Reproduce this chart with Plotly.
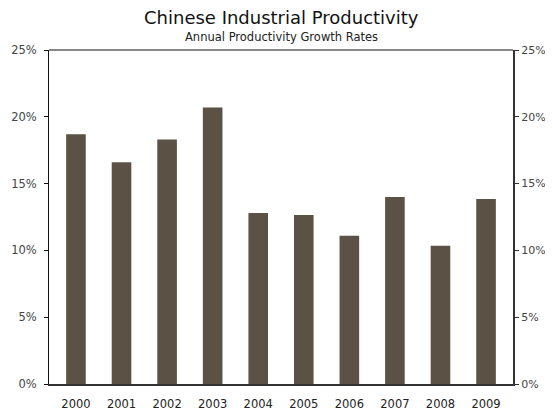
import plotly.graph_objects as go

years = ["2000", "2001", "2002", "2003", "2004", "2005", "2006", "2007", "2008", "2009"]
growth = [18.7, 16.6, 18.3, 20.7, 12.8, 12.65, 11.1, 14.0, 10.35, 13.85]
y_ticks = [0, 5, 10, 15, 20, 25]
y_tick_labels = ["0%", "5%", "10%", "15%", "20%", "25%"]
title_text = "Chinese Industrial Productivity"
subtitle_text = "Annual Productivity Growth Rates"

FONT = "DejaVu Sans"

fig = go.Figure()
fig.add_trace(go.Bar(x=years, y=growth, marker=dict(color="#5C5145", line=dict(width=0)),
                     showlegend=False, hoverinfo="x+y"))
fig.add_trace(go.Scatter(x=years, y=growth, yaxis="y2", mode="markers",
                         marker=dict(opacity=0), showlegend=False, hoverinfo="skip"))

axis_common = dict(range=[0, 25], tickvals=y_ticks, ticktext=y_tick_labels,
                   ticks="outside", ticklen=4, showgrid=False, zeroline=False,
                   showline=True, automargin=False)

fig.update_layout(
    width=545, height=403,
    margin=dict(l=41, r=40, t=42, b=27, autoexpand=False),
    paper_bgcolor="white", plot_bgcolor="white",
    bargap=0.57,
    xaxis=dict(type="category", showgrid=False, ticks="", showline=True, automargin=False,
               linecolor="#333", linewidth=2, ticklabelstandoff=8,
               tickfont=dict(family=FONT, size=11.5, color="#222")),
    yaxis=dict(**axis_common, side="left", linecolor="#111", linewidth=1, tickcolor="#111",
               ticklabelstandoff=5, tickfont=dict(family=FONT, size=11.5, color="#444")),
    yaxis2=dict(**axis_common, side="right", overlaying="y", linecolor="#333", linewidth=2, tickcolor="#333",
                ticklabelstandoff=0, tickfont=dict(family=FONT, size=11, color="#444")),
    shapes=[dict(type="line", xref="paper", yref="paper", x0=0, x1=1, y0=1, y1=1,
                 line=dict(color="#111", width=1))],
    annotations=[
        dict(text=title_text, xref="paper", yref="paper", x=0.5, y=1.096,
             xanchor="center", yanchor="middle", showarrow=False, borderpad=0,
             font=dict(family=FONT, size=18, color="#111")),
        dict(text=subtitle_text, xref="paper", yref="paper", x=0.5, y=1.039,
             xanchor="center", yanchor="middle", showarrow=False, borderpad=0,
             font=dict(family=FONT, size=11.5, color="#222")),
    ],
)

fig.write_html("out.html")
